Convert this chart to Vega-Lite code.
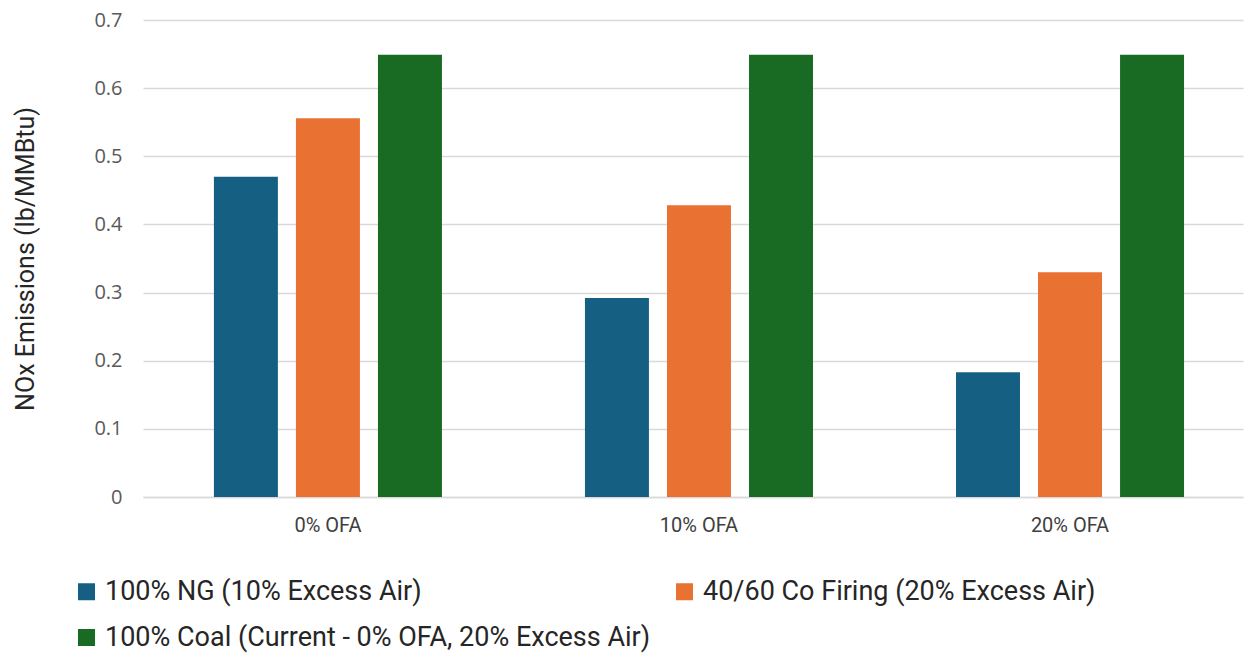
{
  "$schema": "https://vega.github.io/schema/vega-lite/v6.json",
  "autosize": "none",
  "padding": {"left": 143, "top": 20, "right": 2, "bottom": 157},
  "width": 1100,
  "height": 477,
  "background": "white",
  "config": {"view": {"stroke": null}, "font": "Roboto"},
  "data": {"values": [
    {"ofa": "0% OFA", "series": "100% NG (10% Excess Air)", "nox": 0.47},
    {"ofa": "0% OFA", "series": "40/60 Co Firing (20% Excess Air)", "nox": 0.556},
    {"ofa": "0% OFA", "series": "100% Coal (Current - 0% OFA, 20% Excess Air)", "nox": 0.649},
    {"ofa": "10% OFA", "series": "100% NG (10% Excess Air)", "nox": 0.292},
    {"ofa": "10% OFA", "series": "40/60 Co Firing (20% Excess Air)", "nox": 0.428},
    {"ofa": "10% OFA", "series": "100% Coal (Current - 0% OFA, 20% Excess Air)", "nox": 0.649},
    {"ofa": "20% OFA", "series": "100% NG (10% Excess Air)", "nox": 0.183},
    {"ofa": "20% OFA", "series": "40/60 Co Firing (20% Excess Air)", "nox": 0.330},
    {"ofa": "20% OFA", "series": "100% Coal (Current - 0% OFA, 20% Excess Air)", "nox": 0.649}
  ]},
  "mark": {"type": "bar"},
  "encoding": {
    "x": {
      "field": "ofa", "type": "nominal", "sort": ["0% OFA", "10% OFA", "20% OFA"],
      "scale": {"paddingInner": 0.3854, "paddingOuter": 0.175, "align": 0.546},
      "axis": {"title": null, "labelAngle": 0, "labelFontSize": 20, "labelColor": "#404040", "labelPadding": 18, "ticks": false, "domainColor": "#d9d9d9", "domainWidth": 1.5, "grid": false}
    },
    "xOffset": {
      "field": "series", "type": "nominal",
      "sort": ["100% NG (10% Excess Air)", "40/60 Co Firing (20% Excess Air)", "100% Coal (Current - 0% OFA, 20% Excess Air)"],
      "scale": {"paddingInner": 0.22, "paddingOuter": 0}
    },
    "y": {
      "field": "nox", "type": "quantitative",
      "scale": {"domain": [0, 0.7], "nice": false},
      "axis": {"title": "NOx Emissions (lb/MMBtu)", "titleFontSize": 25, "titleFontWeight": "normal", "titleColor": "#262626", "titlePadding": 55, "values": [0, 0.1, 0.2, 0.3, 0.4, 0.5, 0.6, 0.7], "labelFont": "Open Sans", "labelFontSize": 20, "labelColor": "#595959", "labelPadding": 21, "ticks": false, "domain": false, "gridColor": "#d9d9d9", "gridWidth": 1.5, "labelExpr": "datum.value == 0 ? '0' : format(datum.value, '.1f')"}
    },
    "color": {
      "field": "series", "type": "nominal",
      "scale": {
        "domain": ["100% NG (10% Excess Air)", "40/60 Co Firing (20% Excess Air)", "100% Coal (Current - 0% OFA, 20% Excess Air)"],
        "range": ["#156082", "#E97132", "#196B24"]
      },
      "legend": {
        "title": null, "orient": "none", "legendX": -70, "legendY": 558, "direction": "horizontal", "columns": 2,
        "symbolType": "square", "symbolSize": 289, "symbolStrokeWidth": 0, "labelFontSize": 27, "labelColor": "#262626",
        "labelOffset": 5, "columnPadding": 20, "rowPadding": 18, "labelLimit": 800
      }
    }
  }
}
